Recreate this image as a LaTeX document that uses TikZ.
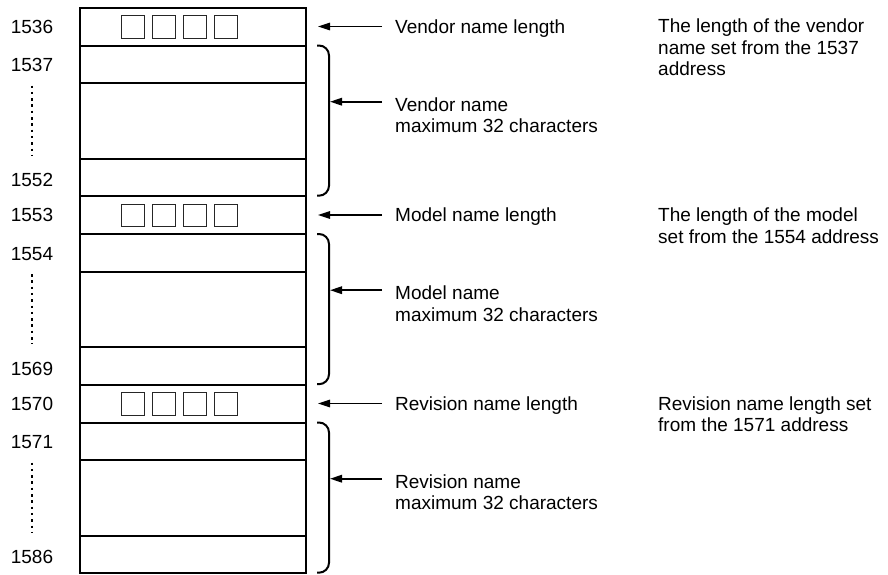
\documentclass[tikz,border=0pt]{standalone}
\usepackage{fontspec}
\setmainfont{Liberation Sans}
\usetikzlibrary{arrows.meta}
\begin{document}
\begin{tikzpicture}[x=1pt,y=-1pt,
  tbl/.style={line width=2pt},
  cell/.style={draw=black!85, line width=1pt},
  lbl/.style={font=\fontsize{19}{21.5}\selectfont, inner sep=0pt},
  arr/.style={line width=1.6pt, -{Triangle[length=12pt,width=7.5pt]}},
  brc/.style={line width=2pt, rounded corners=10pt},
  dotline/.style={line width=2.5pt, dash pattern=on 2.5pt off 3.8pt}]
\useasboundingbox (0,0) rectangle (888,574);
\foreach \s/\o/\a/\b/\c/\ln/\nm/\note/\nb in {
 1/0/1536/1537/1552/{Vendor name length}/{Vendor name\\maximum 32 characters}/{The length of the vendor\\name set from the 1537\\address}/75.5,
 2/188.5/1553/1554/1569/{Model name length}/{Model name\\maximum 32 characters}/{The length of the model\\set from the 1554 address}/54.5,
 3/377/1570/1571/1586/{Revision name length}/{Revision name\\maximum 32 characters}/{Revision name length set\\from the 1571 address}/54.5}
{
 \begin{scope}[shift={(0,\o)}]
  \draw[tbl] (80,7.5) rectangle (306,196);
  \draw[tbl] (80,45.5) -- (306,45.5) (80,83) -- (306,83) (80,158.5) -- (306,158.5);
  \foreach \i in {0,...,3} \draw[cell] ({121+31*\i},15.5) rectangle +(23,22.5);
  \node[lbl, anchor=base] (a\s) at (32,33.3) {\a};
  \node[lbl, anchor=base] (b\s) at (32,71.5) {\b};
  \node[lbl, anchor=base] (c\s) at (32,186.6) {\c};
  \draw[dotline] (32,85.5) -- (32,155.5);
  \node[lbl, anchor=base west] (len\s) at (395,33) {\ln};
  \coordinate (ls\s) at (382,26.5);
  \coordinate (lt\s) at (318,26.5);
  \draw[arr] (ls\s) -- (lt\s);
  \draw[brc] (317,45.5) -- (329,45.5) -- (329,195.7) -- (317,195.7);
  \node[lbl, anchor=base west, align=left] (nm\s) at (395,132.7) {\nm};
  \coordinate (ns\s) at (382,101.7);
  \coordinate (bt\s) at (330,101.7);
  \draw[arr] (ns\s) -- (bt\s);
  \node[lbl, anchor=base west, align=left] (nt\s) at (658,\nb) {\note};
 \end{scope}
}
\end{tikzpicture}
\end{document}
